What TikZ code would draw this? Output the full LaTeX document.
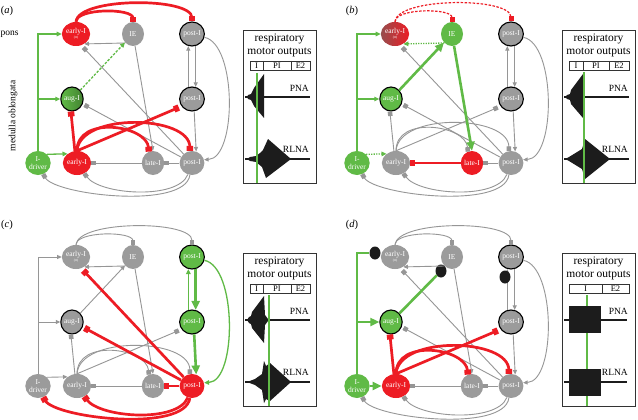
\documentclass[tikz,border=0pt]{standalone}
\usepackage{fontspec}
\setmainfont{Liberation Serif}
\usetikzlibrary{arrows.meta,shapes.geometric}

\definecolor{nodered}{RGB}{237,28,36}
\definecolor{nodegreen}{RGB}{96,186,70}
\definecolor{nodegray}{RGB}{155,155,155}
\definecolor{linegray}{RGB}{150,150,150}
\definecolor{inkblack}{RGB}{28,28,28}
\definecolor{rtshade}{RGB}{150,78,78}

\newcommand\rtfont{\fontsize{3.5}{3.5}\selectfont}

\tikzset{
  neuron/.style={ellipse,minimum width=22pt,minimum height=24pt,inner sep=0pt,text=white,align=center,font=\fontsize{7.5}{7.5}\selectfont},
  rim/.style={draw=black,line width=1.1pt},
  blocker/.style={ellipse,fill=inkblack,minimum width=11pt,minimum height=13pt,inner sep=0pt},
  excite/.style={draw=linegray,line width=0.9pt,-{Triangle[length=4.5pt,width=4pt]}},
  inhibit/.style={draw=linegray,line width=0.9pt,-{Square[length=4.5pt,width=4.5pt]}},
  redinhibit/.style={draw=nodered,line width=2.7pt,-{Square[length=5pt,width=6.5pt]}},
  reddashed/.style={draw=nodered,line width=1.2pt,dash pattern=on 2.5pt off 1.5pt,-{Square[length=5pt,width=5pt]}},
  greenexcite/.style={draw=nodegreen,line width=1.3pt,-{Triangle[length=5pt,width=4.5pt]}},
  greendashed/.style={greenexcite,dash pattern=on 2.5pt off 1.5pt},
  greendotted/.style={greenexcite,dash pattern=on 1.3pt off 1.2pt},
  greenbold/.style={draw=nodegreen,line width=2.6pt,-{Triangle[length=9pt,width=8pt]}},
  greenplain/.style={draw=nodegreen,line width=2.6pt},
  boxframe/.style={draw=black!80,line width=0.8pt},
  tablecell/.style={draw=black!80,line width=0.6pt},
  boxtitle/.style={inner sep=0pt,font=\fontsize{11.5}{12}\selectfont},
  phasename/.style={inner sep=0pt,font=\fontsize{8.5}{8.5}\selectfont},
  tracename/.style={inner sep=0pt,anchor=east,font=\fontsize{9.5}{10}\selectfont},
  nerve/.style={draw=inkblack,line width=1.8pt},
  burst/.style={fill=inkblack},
  phasemark/.style={draw=nodegreen,line width=2pt},
  panellabel/.style={inner sep=0pt,font=\fontsize{10.5}{11}\selectfont},
  regionlabel/.style={inner sep=0pt,font=\fontsize{9.5}{10}\selectfont}
}

\begin{document}
\begin{tikzpicture}[x=1pt,y=-1pt]
\path[use as bounding box,fill=white] (0,0) rectangle (638,420);

% labels
\node[panellabel] (la) at (7,11) {(\textit{a})};
\node[panellabel] (lb) at (352,11) {(\textit{b})};
\node[panellabel] (lc) at (7,225) {(\textit{c})};
\node[panellabel] (ld) at (352,225) {(\textit{d})};
\node[regionlabel,anchor=west] (pons) at (0.5,34) {pons};
\node[regionlabel,rotate=90] (medulla) at (13,116) {medulla oblongata};

% ---------------- (a)
\begin{scope}
\node[neuron,fill=nodered] (eIp) at (76,34) {early-I\\[-2pt]\rtfont (rt)};
\node[neuron,fill=nodegray] (IE) at (133,34) {IE};
\node[neuron,fill=nodegray,rim] (pIt) at (192,34) {post-I};
\node[neuron,rim,left color=nodegreen,right color=nodegreen!70!black] (aug) at (72,99) {aug-I};
\node[neuron,fill=nodegray,rim] (pIm) at (192,99) {post-I};
\node[neuron,fill=nodegreen] (drv) at (38,163) {I-\\driver};
\node[neuron,fill=nodered] (eI) at (77,163) {early-I};
\node[neuron,fill=nodegray] (lI) at (153,163) {late-I};
\node[neuron,fill=nodegray] (pIb) at (192,163) {post-I};
\draw[excite] (IE.230) -- (eIp.-50);
\draw[inhibit,shorten >=3pt] (pIb) -- (eIp.-65);
\draw[excite] (IE) -- (lI.north);
\draw[excite] (pIm.107) -- (pIt.253);
\draw[excite] (pIt.-73) -- (pIm.73);
\draw[excite] (pIt.-15) .. controls (237,44) and (237,158) .. (pIb.15);
\draw[excite] (pIm.-80) -- (pIb.70);
\draw[inhibit,shorten >=2pt] (pIb) -- (aug.-25);
\draw[inhibit] (lI.west) -- (eI.east);
\draw[inhibit] (pIb.west) -- (lI.east);
\draw[inhibit] (pIb.-100) .. controls (185,210) and (55,195) .. (drv.-65);
\draw[inhibit] (pIb.-110) .. controls (178,200) and (100,195) .. (eI.-55);
\draw[greendashed] (aug) -- (IE);
\draw[greenexcite] (drv.north) |- (eIp.west);
\draw[greenexcite] (drv.north |- aug.west) -- (aug.west);
\draw[greenexcite] (drv.44) -- (eI.136);
\draw[redinhibit] (eIp.north) .. controls (76,8) and (133,8) .. (IE.north);
\draw[redinhibit] (eIp.north) .. controls (78,-3) and (192,-3) .. (pIt.north);
\draw[redinhibit] (eI.100) -- (aug.-95);
\draw[redinhibit,shorten >=3pt] (eI.north) -- (pIm.-145);
\draw[redinhibit] (eI.north) .. controls (77,115) and (147,125) .. (lI.110);
\draw[redinhibit] (eI.north) .. controls (80,112) and (190,115) .. (pIb.100);
% motor outputs
\draw[boxframe] (243,30) rectangle (316,183);
\node[boxtitle] (resp) at (279.5,39) {respiratory};
\node[boxtitle] (motor) at (279.5,52) {motor outputs};
\draw[tablecell] (250,61) rectangle (310,70);
\draw[tablecell] (263,61) -- (263,70);
\draw[tablecell] (291,61) -- (291,70);
\node[phasename] (phI) at (256.5,66) {I};
\node[phasename] (phPI) at (277,66) {PI};
\node[phasename] (phE) at (300.5,66) {E2};
\draw[nerve] (245,97) -- (310,97);
\draw[nerve] (245,159) -- (310,159);
\fill[burst] (247,97) -- (248,95) -- (251,94) -- (252,92) -- (254,88) -- (264,74) -- (264,118) -- (254,106) -- (252,102) -- (251,100) -- (248,99) -- cycle;
\fill[burst] (247,159) -- (250,157) -- (256,156) -- (260,153) -- (263,150) -- (268,139) -- (291,159) -- (266,178) -- (262,167) -- (256,162) -- (250,161) -- cycle;
\draw[phasemark] (257,73) -- (257,183);
\node[tracename] (pna) at (309,88) {PNA};
\node[tracename] (rlna) at (309,149) {RLNA};
\end{scope}

% ---------------- (b)
\begin{scope}[shift={(319,0)}]
\node[neuron,left color=rtshade,right color=nodered] (eIp) at (76,34) {early-I\\[-2pt]\rtfont (rt)};
\node[neuron,fill=nodegreen] (IE) at (133,34) {IE};
\node[neuron,fill=nodegray,rim] (pIt) at (192,34) {post-I};
\node[neuron,fill=nodegreen,rim] (aug) at (72,99) {aug-I};
\node[neuron,fill=nodegray,rim] (pIm) at (192,99) {post-I};
\node[neuron,fill=nodegreen] (drv) at (38,163) {I-\\driver};
\node[neuron,fill=nodegray] (eI) at (77,163) {early-I};
\node[neuron,fill=nodered] (lI) at (153,163) {late-I};
\node[neuron,fill=nodegray] (pIb) at (192,163) {post-I};
\draw[inhibit,shorten >=3pt] (pIb) -- (eIp.-65);
\draw[excite] (pIm.107) -- (pIt.253);
\draw[excite] (pIt.-73) -- (pIm.73);
\draw[excite] (pIt.-15) .. controls (237,44) and (237,158) .. (pIb.15);
\draw[excite] (pIm.-80) -- (pIb.70);
\draw[inhibit,shorten >=2pt] (pIb) -- (aug.-25);
\draw[inhibit] (eI.100) -- (aug.-95);
\draw[inhibit,shorten >=3pt] (eI.north) -- (pIm.-145);
\draw[inhibit] (eI.north) .. controls (77,115) and (147,125) .. (lI.110);
\draw[inhibit] (eI.north) .. controls (80,112) and (190,115) .. (pIb.100);
\draw[inhibit] (pIb.west) -- (lI.east);
\draw[inhibit] (pIb.-100) .. controls (185,210) and (55,195) .. (drv.-65);
\draw[inhibit] (pIb.-110) .. controls (178,200) and (100,195) .. (eI.-55);
\draw[reddashed] (eIp.north) .. controls (76,8) and (133,8) .. (IE.north);
\draw[reddashed] (eIp.north) .. controls (78,-3) and (192,-3) .. (pIt.north);
\draw[greendotted] (IE.230) -- (eIp.-50);
\draw[greenexcite] (drv.north) |- (eIp.west);
\draw[greenexcite] (drv.north |- aug.west) -- (aug.west);
\draw[greendotted] (drv.44) -- (eI.136);
\draw[greenbold] (aug) -- (IE);
\draw[greenbold] (IE) -- (lI.north);
\draw[redinhibit] (lI.west) -- (eI.east);
% motor outputs
\draw[boxframe] (243,30) rectangle (316,183);
\node[boxtitle] (resp) at (279.5,39) {respiratory};
\node[boxtitle] (motor) at (279.5,52) {motor outputs};
\draw[tablecell] (250,61) rectangle (310,70);
\draw[tablecell] (264,61) -- (264,70);
\draw[tablecell] (290,61) -- (290,70);
\node[phasename] (phI) at (257,66) {I};
\node[phasename] (phPI) at (277,66) {PI};
\node[phasename] (phE) at (300,66) {E2};
\draw[nerve] (245,97) -- (310,97);
\draw[nerve] (245,159) -- (310,159);
\fill[burst] (246,97) -- (248,95) -- (251,94) -- (252,90) -- (264,74) -- (264,118) -- (252,104) -- (251,100) -- (248,99) -- cycle;
\fill[burst] (246,159) -- (250,157) -- (263,149) -- (266,139) -- (291,159) -- (266,179) -- (263,169) -- (250,161) -- cycle;
\draw[phasemark] (265,72) -- (265,183);
\node[tracename] (pna) at (309,88) {PNA};
\node[tracename] (rlna) at (309,149) {RLNA};
\end{scope}

% ---------------- (c)
\begin{scope}[shift={(0,223)}]
\node[neuron,fill=nodegray] (eIp) at (76,34) {early-I\\[-2pt]\rtfont (rt)};
\node[neuron,fill=nodegray] (IE) at (133,34) {IE};
\node[neuron,fill=nodegreen,rim] (pIt) at (192,34) {post-I};
\node[neuron,fill=nodegray,rim] (aug) at (72,99) {aug-I};
\node[neuron,fill=nodegreen,rim] (pIm) at (192,99) {post-I};
\node[neuron,fill=nodegray] (drv) at (38,163) {I-\\driver};
\node[neuron,fill=nodegray] (eI) at (77,163) {early-I};
\node[neuron,fill=nodegray] (lI) at (153,163) {late-I};
\node[neuron,fill=nodered] (pIb) at (192,163) {post-I};
\draw[inhibit] (eIp.north) .. controls (76,8) and (133,8) .. (IE.north);
\draw[inhibit] (eIp.north) .. controls (78,-3) and (192,-3) .. (pIt.north);
\draw[excite] (IE.230) -- (eIp.-50);
\draw[excite] (aug) -- (IE);
\draw[excite] (IE) -- (lI.north);
\draw[excite] (drv.north) |- (eIp.west);
\draw[excite] (drv.north |- aug.west) -- (aug.west);
\draw[excite] (drv.44) -- (eI.136);
\draw[inhibit] (eI.100) -- (aug.-95);
\draw[inhibit,shorten >=3pt] (eI.north) -- (pIm.-145);
\draw[inhibit] (eI.north) .. controls (77,115) and (147,125) .. (lI.110);
\draw[inhibit] (eI.north) .. controls (80,112) and (190,115) .. (pIb.100);
\draw[inhibit] (lI.west) -- (eI.east);
\draw[greenexcite] (pIm.107) -- (pIt.253);
\draw[greenbold] (pIt.-73) -- (pIm.73);
\draw[greenexcite] (pIt.-15) .. controls (237,44) and (237,158) .. (pIb.15);
\draw[greenbold] (pIm.-80) -- (pIb.70);
\draw[redinhibit,shorten >=3pt] (pIb) -- (eIp.-65);
\draw[redinhibit,shorten >=2pt] (pIb) -- (aug.-25);
\draw[redinhibit] (pIb.west) -- (lI.east);
\draw[redinhibit] (pIb.-100) .. controls (185,210) and (55,195) .. (drv.-65);
\draw[redinhibit] (pIb.-110) .. controls (178,200) and (100,195) .. (eI.-55);
% motor outputs
\draw[boxframe] (243,30) rectangle (316,183);
\node[boxtitle] (resp) at (279.5,39) {respiratory};
\node[boxtitle] (motor) at (279.5,52) {motor outputs};
\draw[tablecell] (250,61) rectangle (310,70);
\draw[tablecell] (263,61) -- (263,70);
\draw[tablecell] (291,61) -- (291,70);
\node[phasename] (phI) at (256.5,66) {I};
\node[phasename] (phPI) at (277,66) {PI};
\node[phasename] (phE) at (300.5,66) {E2};
\draw[nerve] (245,97) -- (310,97);
\draw[nerve] (245,159) -- (310,159);
\fill[burst] (247,97) -- (249,94) -- (251,93) -- (252,89) -- (264,73) -- (265,92) -- (268,96) -- (268,98) -- (265,102) -- (264,120) -- (252,105) -- (251,101) -- (249,100) -- cycle;
\fill[burst] (247,159) -- (255,156) -- (262,151) -- (264,138) -- (266,143) -- (270,140) -- (291,159) -- (270,178) -- (266,176) -- (264,180) -- (262,167) -- (255,162) -- cycle;
\draw[phasemark] (269,72) -- (269,183);
\node[tracename] (pna) at (309,88) {PNA};
\node[tracename] (rlna) at (309,149) {RLNA};
\end{scope}

% ---------------- (d)
\begin{scope}[shift={(319,223)}]
\node[neuron,fill=nodegray] (eIp) at (76,34) {early-I\\[-2pt]\rtfont (rt)};
\node[neuron,fill=nodegray] (IE) at (133,34) {IE};
\node[neuron,fill=nodegray,rim] (pIt) at (192,34) {post-I};
\node[neuron,fill=nodegreen,rim] (aug) at (72,99) {aug-I};
\node[neuron,fill=nodegray,rim] (pIm) at (192,99) {post-I};
\node[neuron,fill=nodegreen] (drv) at (38,163) {I-\\driver};
\node[neuron,fill=nodered] (eI) at (77,163) {early-I};
\node[neuron,fill=nodegray] (lI) at (153,163) {late-I};
\node[neuron,fill=nodegray] (pIb) at (192,163) {post-I};
\node[blocker] (blkA) at (56,30) {};
\node[blocker] (blkB) at (122,48) {};
\draw[inhibit] (eIp.north) .. controls (76,8) and (133,8) .. (IE.north);
\draw[inhibit] (eIp.north) .. controls (78,-3) and (192,-3) .. (pIt.north);
\draw[excite] (IE.230) -- (eIp.-50);
\draw[inhibit,shorten >=3pt] (pIb) -- (eIp.-65);
\draw[excite] (IE) -- (lI.north);
\draw[excite] (pIm.107) -- (pIt.253);
\draw[excite] (pIt.-73) -- (pIm.73);
\draw[excite] (pIt.-15) .. controls (237,44) and (237,158) .. (pIb.15);
\draw[excite] (pIm.-80) -- (pIb.70);
\draw[inhibit,shorten >=2pt] (pIb) -- (aug.-25);
\draw[inhibit] (lI.west) -- (eI.east);
\draw[inhibit] (pIb.west) -- (lI.east);
\draw[inhibit] (pIb.-100) .. controls (185,210) and (55,195) .. (drv.-65);
\draw[inhibit] (pIb.-110) .. controls (178,200) and (100,195) .. (eI.-55);
\node[blocker] (blkC) at (186,54) {};
\draw[greenplain] (drv.north) |- (blkA.west);
\draw[greenbold] (drv.north |- aug.west) -- (aug.west);
\draw[greenbold] (drv.east) -- (eI.west);
\draw[greenplain] (aug) -- (blkB);
\draw[redinhibit] (eI.100) -- (aug.-95);
\draw[redinhibit,shorten >=3pt] (eI.north) -- (pIm.-145);
\draw[redinhibit] (eI.north) .. controls (77,115) and (147,125) .. (lI.110);
\draw[redinhibit] (eI.north) .. controls (80,112) and (190,115) .. (pIb.100);
% motor outputs
\draw[boxframe] (243,30) rectangle (316,183);
\node[boxtitle] (resp) at (279.5,39) {respiratory};
\node[boxtitle] (motor) at (279.5,52) {motor outputs};
\draw[tablecell] (250,61) rectangle (310,70);
\draw[tablecell] (283,61) -- (283,70);
\node[phasename] (phI) at (266.5,66) {I};
\node[phasename] (phE) at (296.5,66) {E2};
\draw[phasemark] (268,72) -- (268,183);
\draw[nerve] (245,97) -- (308,97);
\draw[nerve] (245,159) -- (308,159);
\fill[burst] (250,83) rectangle (282,110);
\fill[burst] (250,146) rectangle (282,173);
\node[tracename] (pna) at (309,88) {PNA};
\node[tracename] (rlna) at (309,149) {RLNA};
\end{scope}
\end{tikzpicture}
\end{document}
